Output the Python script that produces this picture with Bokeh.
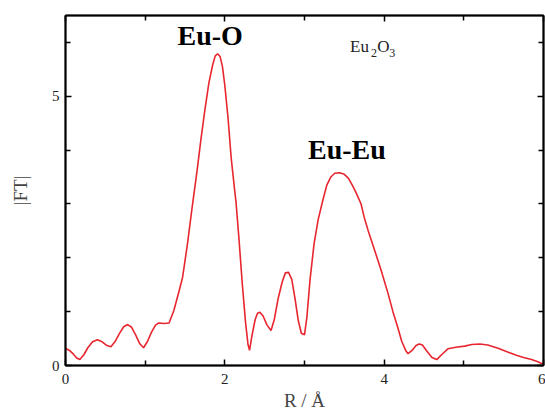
from bokeh.plotting import figure
from bokeh.models import LinearAxis, FixedTicker, Label, Range1d
from bokeh.embed import file_html
from bokeh.resources import INLINE

r_values = [0.00, 0.05, 0.10, 0.14, 0.18, 0.23, 0.28, 0.34, 0.40, 0.46, 0.52, 0.57, 0.62, 0.68, 0.73, 0.78,
            0.83, 0.88, 0.93, 0.98, 1.03, 1.08, 1.13, 1.17, 1.24, 1.30, 1.36, 1.42, 1.47, 1.53, 1.59, 1.65,
            1.70, 1.75, 1.80, 1.85, 1.88, 1.91, 1.94, 1.97, 2.00, 2.04, 2.08, 2.12, 2.14, 2.18, 2.22, 2.26,
            2.29, 2.31, 2.34, 2.38, 2.41, 2.44, 2.48, 2.53, 2.58, 2.62, 2.67, 2.72, 2.76, 2.80, 2.84, 2.88,
            2.92, 2.96, 3.00, 3.03, 3.07, 3.12, 3.17, 3.23, 3.28, 3.33, 3.38, 3.44, 3.50, 3.55, 3.60, 3.65,
            3.71, 3.75, 3.80, 3.88, 3.96, 4.05, 4.11, 4.17, 4.22, 4.27, 4.30, 4.35, 4.40, 4.44, 4.48, 4.53,
            4.60, 4.66, 4.72, 4.80, 4.90, 5.01, 5.10, 5.20, 5.30, 5.43, 5.55, 5.66, 5.75, 5.85, 5.93, 6.00]
ft_values = [0.32, 0.28, 0.21, 0.14, 0.11, 0.20, 0.33, 0.44, 0.48, 0.44, 0.37, 0.35, 0.44, 0.60, 0.72, 0.76,
             0.71, 0.57, 0.41, 0.33, 0.45, 0.62, 0.75, 0.79, 0.78, 0.79, 1.02, 1.35, 1.64, 2.25, 2.94, 3.60,
             4.20, 4.75, 5.25, 5.60, 5.75, 5.79, 5.74, 5.55, 5.20, 4.60, 3.85, 3.30, 3.04, 2.30, 1.50, 0.80,
             0.40, 0.28, 0.55, 0.85, 0.97, 0.99, 0.92, 0.75, 0.65, 0.85, 1.25, 1.55, 1.72, 1.73, 1.60, 1.25,
             0.85, 0.60, 0.57, 0.90, 1.60, 2.26, 2.70, 3.07, 3.35, 3.50, 3.57, 3.58, 3.55, 3.48, 3.35, 3.20,
             3.00, 2.75, 2.50, 2.14, 1.78, 1.33, 1.00, 0.71, 0.45, 0.28, 0.22, 0.28, 0.37, 0.40, 0.38, 0.28,
             0.15, 0.11, 0.20, 0.31, 0.34, 0.36, 0.39, 0.40, 0.38, 0.32, 0.25, 0.19, 0.15, 0.11, 0.07, 0.02]

x_major = [0, 2, 4, 6]
x_minor = [1, 3, 5]
y_major = [0, 5]
y_minor = [1, 2, 3, 4, 6]

FONT = "Liberation Serif"

p = figure(width=545, height=414, output_backend="svg", toolbar_location=None,
           x_range=Range1d(0, 6), y_range=Range1d(0, 6.5),
           min_border_left=65, min_border_right=2, min_border_top=15, min_border_bottom=49,
           x_axis_label="R / Å", y_axis_label="|FT|")
p.grid.visible = False
p.outline_line_color = "black"
p.outline_line_width = 1.5
p.background_fill_color = "white"
p.border_fill_color = "white"

p.line(r_values, ft_values, line_color="#e8262f", line_width=1.6)

def style_axis(ax, ticks, minor, labels=True):
    ax.ticker = FixedTicker(ticks=ticks, minor_ticks=minor)
    ax.axis_line_color = "black"
    ax.axis_line_width = 2
    ax.major_tick_in = 6
    ax.major_tick_out = 0
    ax.minor_tick_in = 5
    ax.minor_tick_out = 0
    ax.major_tick_line_width = 1.5
    ax.minor_tick_line_width = 1.5
    ax.major_tick_line_color = "black"
    ax.minor_tick_line_color = "black"
    ax.major_label_text_font = FONT
    ax.major_label_text_font_size = "15px"
    ax.major_label_text_color = "#222222"
    ax.axis_label_text_font = FONT
    ax.axis_label_text_font_style = "normal"
    ax.axis_label_text_font_size = "19px"
    ax.axis_label_text_color = "#444444"
    if not labels:
        ax.major_label_text_alpha = 0
        ax.major_label_text_font_size = "1px"
        ax.axis_label = None

style_axis(p.xaxis[0], x_major, x_minor)
style_axis(p.yaxis[0], y_major, y_minor)
p.xaxis[0].major_label_standoff = 8
p.xaxis[0].axis_label_standoff = 3
p.yaxis[0].major_label_standoff = 6
p.yaxis[0].axis_label_standoff = 18

top = LinearAxis()
style_axis(top, x_major, x_minor, labels=False)
p.add_layout(top, "above")
right = LinearAxis()
style_axis(right, y_major, y_minor, labels=False)
p.add_layout(right, "right")

p.add_layout(Label(x=1.816, y=6.12, text="Eu-O", text_font=FONT, text_font_style="bold",
                   text_font_size="28px", text_align="center", text_baseline="alphabetic",
                   text_color="black"))
p.add_layout(Label(x=3.532, y=4.01, text="Eu-Eu", text_font=FONT, text_font_style="bold",
                   text_font_size="28px", text_align="center", text_baseline="alphabetic",
                   text_color="black"))
for tx, ty, t, fs in [(3.572, 5.93, "Eu", "17px"), (3.836, 5.80, "2", "12px"),
                      (3.912, 5.93, "O", "17px"), (4.063, 5.80, "3", "12px")]:
    p.add_layout(Label(x=tx, y=ty, text=t, text_font=FONT, text_font_size=fs,
                       text_align="left", text_baseline="alphabetic", text_color="#222222"))

open("out.html", "w").write(file_html(p, INLINE))
